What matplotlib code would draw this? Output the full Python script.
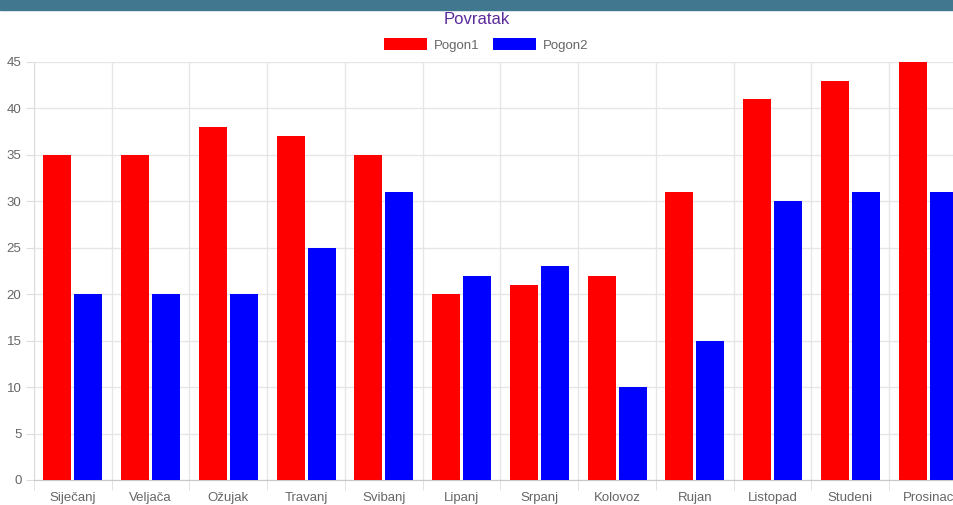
import numpy as np
import matplotlib.pyplot as plt
from matplotlib.patches import Rectangle

# podaci
mjeseci = ['Siječanj', 'Veljača', 'Ožujak', 'Travanj', 'Svibanj', 'Lipanj',
           'Srpanj', 'Kolovoz', 'Rujan', 'Listopad', 'Studeni', 'Prosinac']
pogon1 = [35, 35, 38, 37, 35, 20, 21, 22, 31, 41, 43, 45]
pogon2 = [20, 20, 20, 25, 31, 22, 23, 10, 15, 30, 31, 31]
y_ticks = [0, 5, 10, 15, 20, 25, 30, 35, 40, 45]

plt.rcParams['font.family'] = ['Liberation Sans', 'DejaVu Sans']

fig = plt.figure(figsize=(9.54, 5.05), dpi=100)

# traka na vrhu
fig.patches.append(Rectangle((0, 1 - 10 / 505), 1, 10 / 505, transform=fig.transFigure,
                             color='#41788f', zorder=0))

# os prelazi desni rub slike (graf je odrezan)
ax = fig.add_axes([34 / 954, 25 / 505, 933 / 954, 418 / 505])

x = np.arange(len(mjeseci))
w = 0.36
ax.bar(x - 0.2, pogon1, width=w, color='#ff0000', label='Pogon1', zorder=3)
ax.bar(x + 0.2, pogon2, width=w, color='#0000ff', label='Pogon2', zorder=3)

ax.set_xlim(-0.5, len(mjeseci) - 0.5)
ax.set_ylim(0, 45)
ax.set_yticks(y_ticks)
ax.set_xticks(x)
ax.set_xticklabels(mjeseci)
ax.set_xticks(np.arange(len(mjeseci) + 1) - 0.5, minor=True)

ax.grid(axis='y', color='#e6e6e6', linewidth=1, zorder=0)
ax.grid(axis='x', which='minor', color='#e6e6e6', linewidth=1, zorder=0)
ax.tick_params(axis='x', which='major', length=0, pad=15, labelsize=9.5, labelcolor='#666666')
ax.tick_params(axis='x', which='minor', length=7, color='#dddddd')
ax.tick_params(axis='y', length=6, color='#dddddd', pad=3, labelsize=9.5, labelcolor='#666666')
for lbl in ax.get_xticklabels():
    lbl.set_va('baseline')

for s in ['top', 'right']:
    ax.spines[s].set_visible(False)
ax.spines['left'].set_color('#dddddd')
ax.spines['bottom'].set_color('#c8c8c8')

fig.text(0.5, 1 - 19 / 505, 'Povratak', ha='center', va='center',
         fontsize=12, color='#5b2a9b')
fig.legend(loc='center', bbox_to_anchor=(486 / 954, 1 - 45 / 505), ncol=2,
           frameon=False, fontsize=9.5, handlelength=3.3, handleheight=1.0,
           handletextpad=0.5, columnspacing=1.0, labelcolor='#666666')

plt.savefig('out.png', dpi=100)
